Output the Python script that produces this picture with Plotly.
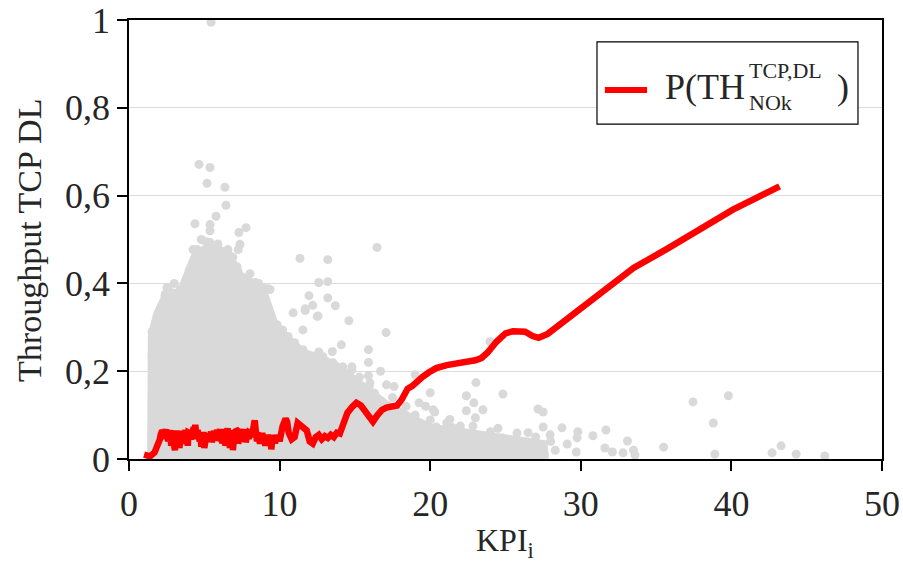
import plotly.graph_objects as go

# ---------------- data ----------------
# dense core of the grey cloud (outline, y from 0 up to upper envelope)
cloud_x = [1.5, 1.5, 1.55, 1.9, 2.3, 2.6, 3.4, 4.0, 4.5, 5.4, 6.5, 7.3, 8.3, 9.0, 9.6,
           10.6, 11.6, 12.6, 13.8, 14.6, 15.6, 17.0, 18.6, 20.0, 22.6, 25.3, 27.5, 27.6]
cloud_y = [0.0, 0.19, 0.28, 0.33, 0.36, 0.38, 0.375, 0.43, 0.47, 0.48, 0.47, 0.42, 0.39, 0.37, 0.31,
           0.27, 0.24, 0.23, 0.21, 0.19, 0.16, 0.125, 0.095, 0.07, 0.058, 0.045, 0.033, 0.0]

# individual grey points around / outside the dense core
pts_x = [5.45, 4.65, 5.38, 5.18, 6.37, 6.44, 5.78, 4.38, 5.38, 5.38, 7.77, 7.3, 7.37, 7.25, 5.38,
         4.52, 6.57, 4.18, 7.17, 8.03, 8.37, 9.23, 8.9, 2.59, 2.4, 3.52, 3.3, 1.53, 1.53, 1.7,
         2.0, 1.75,
         16.47, 11.35, 13.2, 12.6, 13.2, 11.95, 13.2, 12.2, 13.7, 11.7, 10.9, 11.55, 12.5, 14.6,
         12.6, 14.1, 15.9, 15.9, 15.9, 15.95, 13.5, 17.07, 16.7, 17.1, 17.6, 19.0, 20.0, 20.2,
         19.26, 19.7, 20.3, 23.97, 23.04, 22.4, 22.9, 22.4, 23.5, 23.0, 22.84, 24.83, 27.16, 27.5,
         28.75, 29.8, 29.75, 30.8, 31.67, 31.6, 32.1, 29.1, 29.7, 27.96, 27.5, 25.76, 25.76, 24.0,
         24.8, 21.1, 20.4, 21.5, 20.0, 18.2, 17.8, 28.3, 28.0,
         32.8, 33.1, 33.5, 33.6, 35.5, 37.45, 38.8, 39.8, 38.9, 42.7, 43.3, 44.3, 46.2,
         14.0, 14.8, 15.2, 16.3, 17.5, 18.4, 19.0, 21.3, 22.0, 24.5, 26.5, 27.0, 11.7, 12.55,
         2.39, 2.52, 3.39, 3.59, 4.25, 5.25, 5.58, 6.04, 6.71, 7.24, 8.83, 9.36, 8.9, 9.36,
         9.83, 10.2, 10.56, 11.0, 11.55, 12.15, 12.88, 13.55, 14.2, 14.8, 15.3, 16.0,
         1.53, 1.86, 2.26, 2.19, 2.52,
         4.8, 5.1, 5.9, 6.2, 6.9, 3.8, 4.0, 3.0, 7.9, 8.6]
pts_y = [0.995, 0.671, 0.664, 0.628, 0.619, 0.578, 0.553, 0.536, 0.534, 0.52, 0.527, 0.516, 0.489, 0.477, 0.493,
         0.477, 0.477, 0.443, 0.438, 0.422, 0.402, 0.388, 0.39, 0.39, 0.375, 0.386, 0.37, 0.29, 0.237, 0.18,
         0.33, 0.31,
         0.482, 0.457, 0.454, 0.402, 0.404, 0.372, 0.367, 0.35, 0.349, 0.342, 0.333, 0.294, 0.325, 0.315,
         0.244, 0.26, 0.249, 0.22, 0.19, 0.164, 0.245, 0.288, 0.2, 0.169, 0.165, 0.192, 0.151, 0.112,
         0.128, 0.12, 0.107, 0.267, 0.174, 0.144, 0.128, 0.11, 0.112, 0.094, 0.075, 0.148, 0.114, 0.107,
         0.071, 0.062, 0.048, 0.053, 0.066, 0.025, 0.016, 0.034, 0.016, 0.055, 0.073, 0.059, 0.043, 0.062,
         0.048, 0.082, 0.073, 0.071, 0.089, 0.089, 0.089, 0.02, 0.04,
         0.014, 0.041, 0.02, 0.009, 0.027, 0.13, 0.082, 0.144, 0.011, 0.014, 0.03, 0.011, 0.007,
         0.2, 0.21, 0.18, 0.15, 0.14, 0.12, 0.1, 0.09, 0.075, 0.07, 0.06, 0.05, 0.338, 0.326,
         0.37, 0.39, 0.386, 0.363, 0.477, 0.489, 0.477, 0.454, 0.447, 0.427, 0.386, 0.386, 0.333, 0.33,
         0.306, 0.294, 0.279, 0.265, 0.249, 0.233, 0.233, 0.219, 0.21, 0.203, 0.187, 0.173,
         0.233, 0.265, 0.30, 0.34, 0.37,
         0.50, 0.495, 0.49, 0.47, 0.46, 0.41, 0.43, 0.40, 0.41, 0.40]

# red probability curve P(TH NOk)
line_x = [1.0, 1.4, 1.7,
          2.00, 2.05, 2.10, 2.15, 2.20, 2.25, 2.30, 2.35, 2.40, 2.45, 2.50, 2.55, 2.60, 2.65, 2.70, 2.75, 2.80, 2.85, 2.90, 2.95,
          3.00, 3.05, 3.10, 3.15, 3.20, 3.25, 3.30, 3.35, 3.40, 3.45, 3.50, 3.55, 3.60, 3.65, 3.70, 3.75, 3.80, 3.85, 3.90, 3.95,
          4.00, 4.05, 4.10, 4.15, 4.20, 4.25, 4.30, 4.35, 4.40, 4.45, 4.50, 4.55, 4.60, 4.65, 4.70, 4.75, 4.80, 4.85, 4.90, 4.95,
          5.00, 5.05, 5.10, 5.15, 5.20, 5.25, 5.30, 5.35, 5.40, 5.45, 5.50, 5.55, 5.60, 5.65, 5.70, 5.75, 5.80, 5.85, 5.90, 5.95,
          6.00, 6.05, 6.10, 6.15, 6.20, 6.25, 6.30, 6.35, 6.40, 6.45, 6.50, 6.55, 6.60, 6.65, 6.70, 6.75, 6.80, 6.85, 6.90, 6.95,
          7.00, 7.05, 7.10, 7.15, 7.20, 7.25, 7.30, 7.35, 7.40, 7.45, 7.50, 7.55, 7.60, 7.65, 7.70, 7.75, 7.80, 7.85, 7.90, 7.95,
          8.00, 8.05, 8.10, 8.15, 8.20, 8.25, 8.30, 8.35, 8.40, 8.45, 8.50, 8.55, 8.60, 8.65, 8.70, 8.75, 8.80, 8.85, 8.90, 8.95,
          9.00, 9.05, 9.10, 9.15, 9.20, 9.25, 9.30, 9.35, 9.40, 9.45, 9.50, 9.55, 9.60, 9.65, 9.70, 9.75, 9.80, 9.85, 9.90, 9.95,
          10.0, 10.2, 10.4, 10.5, 10.6, 10.8, 11.0, 11.2, 11.4, 11.6, 11.8, 12.0, 12.2, 12.4, 12.6, 12.8,
          13.0, 13.2, 13.4, 13.6, 13.8, 14.0, 14.2, 14.5, 14.8, 15.1, 15.4, 15.7, 16.0, 16.2, 16.5, 16.8,
          17.1, 17.5, 17.8, 18.1, 18.5, 18.8, 19.1, 19.5, 19.9, 20.4, 21.1, 22.2, 23.0, 23.4, 23.8, 24.4,
          25.0, 25.5, 26.3, 26.8, 27.2, 27.8, 28.4, 29.3, 30.0, 31.3, 32.4, 33.5, 35.7, 37.9, 40.1, 43.2]
line_y = [0.010, 0.006, 0.015,
          0.035, 0.045, 0.055, 0.060, 0.065, 0.058, 0.066, 0.050, 0.062, 0.068, 0.045, 0.064, 0.040, 0.060, 0.052, 0.066, 0.030, 0.058, 0.045, 0.062,
          0.030, 0.020, 0.055, 0.065, 0.048, 0.062, 0.040, 0.025, 0.050, 0.064, 0.045, 0.058, 0.035, 0.060, 0.050, 0.066, 0.040, 0.056, 0.030, 0.060,
          0.035, 0.058, 0.045, 0.062, 0.050, 0.066, 0.072, 0.055, 0.078, 0.060, 0.045, 0.066, 0.050, 0.062, 0.040, 0.058, 0.028, 0.055, 0.045, 0.062,
          0.025, 0.050, 0.035, 0.058, 0.045, 0.055, 0.040, 0.060, 0.048, 0.062, 0.038, 0.055, 0.050, 0.064, 0.042, 0.060, 0.052, 0.066, 0.045, 0.062,
          0.050, 0.068, 0.040, 0.060, 0.035, 0.062, 0.055, 0.068, 0.030, 0.065, 0.050, 0.070, 0.042, 0.062, 0.025, 0.058, 0.048, 0.066, 0.020, 0.055,
          0.060, 0.045, 0.068, 0.050, 0.065, 0.035, 0.060, 0.048, 0.066, 0.040, 0.062, 0.050, 0.068, 0.045, 0.060, 0.038, 0.064, 0.050, 0.066, 0.045,
          0.060, 0.045, 0.058, 0.050, 0.062, 0.070, 0.078, 0.088, 0.070, 0.055, 0.040, 0.060, 0.048, 0.056, 0.035, 0.052, 0.045, 0.060, 0.040, 0.050,
          0.045, 0.030, 0.050, 0.040, 0.055, 0.045, 0.050, 0.035, 0.048, 0.022, 0.040, 0.050, 0.042, 0.055, 0.035, 0.050, 0.045, 0.055, 0.040, 0.050,
          0.040, 0.075, 0.092, 0.085, 0.060, 0.045, 0.050, 0.082, 0.075, 0.070, 0.065, 0.040, 0.035, 0.050, 0.055, 0.045,
          0.052, 0.048, 0.055, 0.050, 0.060, 0.058, 0.075, 0.105, 0.118, 0.128, 0.122, 0.108, 0.093, 0.085, 0.100, 0.112,
          0.117, 0.120, 0.122, 0.135, 0.160, 0.166, 0.176, 0.187, 0.197, 0.207, 0.214, 0.219, 0.225, 0.230, 0.242, 0.267,
          0.286, 0.291, 0.290, 0.280, 0.276, 0.285, 0.301, 0.322, 0.345, 0.376, 0.407, 0.435, 0.478, 0.523, 0.568, 0.621]

x_ticks = [0, 10, 20, 30, 40, 50]
y_ticks = [0, 0.2, 0.4, 0.6, 0.8, 1]
y_tick_labels = ["0", "0,2", "0,4", "0,6", "0,8", "1"]

# ---------------- figure ----------------
GREY = "rgb(217,217,217)"
FONT = "Liberation Serif"
TXT = "#262626"

fig = go.Figure()
fig.add_trace(go.Scatter(x=cloud_x, y=cloud_y, mode="lines", fill="toself",
                         fillcolor=GREY, line=dict(color=GREY, width=9),
                         hoverinfo="skip", showlegend=False))
fig.add_trace(go.Scatter(x=pts_x, y=pts_y, mode="markers",
                         marker=dict(color=GREY, size=9, line=dict(width=0)),
                         showlegend=False))
fig.add_trace(go.Scatter(x=line_x, y=line_y, mode="lines",
                         line=dict(color="#ff0000", width=6.5),
                         showlegend=False))

axis_common = dict(showline=True, linecolor="black", linewidth=1.5, mirror=True,
                   ticks="outside", ticklen=10, tickwidth=1.5, tickcolor="black",
                   tickfont=dict(family=FONT, size=36, color=TXT), zeroline=False,
                   automargin=False)

fig.update_xaxes(range=[0, 50], tickvals=x_ticks, showgrid=False,
                 ticklabelstandoff=2, **axis_common)
fig.update_yaxes(range=[0, 1], tickvals=y_ticks, ticktext=y_tick_labels,
                 showgrid=True, gridcolor="rgb(220,220,220)", gridwidth=1.2,
                 **axis_common)

fig.update_layout(
    width=903, height=563,
    margin=dict(l=129, r=21, t=20, b=104, autoexpand=False),
    paper_bgcolor="white", plot_bgcolor="white",
    showlegend=False,
    shapes=[
        dict(type="rect", xref="paper", yref="paper", x0=0.6215, x1=0.9681, y0=0.763, y1=0.95,
             line=dict(color="black", width=1.2), fillcolor="white", layer="above"),
        dict(type="line", xref="paper", yref="paper", x0=0.632, x1=0.688, y0=0.8405, y1=0.8405,
             line=dict(color="#ff0000", width=6), layer="above"),
    ],
    annotations=[
        dict(text="Throughput TCP DL", xref="paper", yref="paper", x=-0.1315, y=0.499,
             xanchor="center", yanchor="middle", textangle=-90, showarrow=False,
             font=dict(family=FONT, size=34, color=TXT)),
        dict(text="KPI<sub>i</sub>", xref="paper", yref="paper", x=0.4993, y=-0.19,
             xanchor="center", yanchor="middle", showarrow=False,
             font=dict(family=FONT, size=32, color=TXT)),
        dict(text="P(TH", xref="paper", yref="paper", x=0.709, y=0.8485, xanchor="left", yanchor="middle",
             showarrow=False, font=dict(family=FONT, size=36, color=TXT)),
        dict(text="TCP,DL", xref="paper", yref="paper", x=0.8207, y=0.886, xanchor="left", yanchor="middle",
             showarrow=False, font=dict(family=FONT, size=22, color=TXT)),
        dict(text="NOk", xref="paper", yref="paper", x=0.8207, y=0.813, xanchor="left", yanchor="middle",
             showarrow=False, font=dict(family=FONT, size=22, color=TXT)),
        dict(text=")", xref="paper", yref="paper", x=0.9376, y=0.8485, xanchor="left", yanchor="middle",
             showarrow=False, font=dict(family=FONT, size=36, color=TXT)),
    ],
)

fig.write_html("out.html", config={"displayModeBar": False})

# remove the browser's default 8px body margin so the figure sits at the page origin
with open("out.html", "r", encoding="utf-8") as fh:
    page = fh.read()
page = page.replace("<head>", "<head><style>html,body{margin:0;padding:0;overflow:hidden;}</style>", 1)
with open("out.html", "w", encoding="utf-8") as fh:
    fh.write(page)
